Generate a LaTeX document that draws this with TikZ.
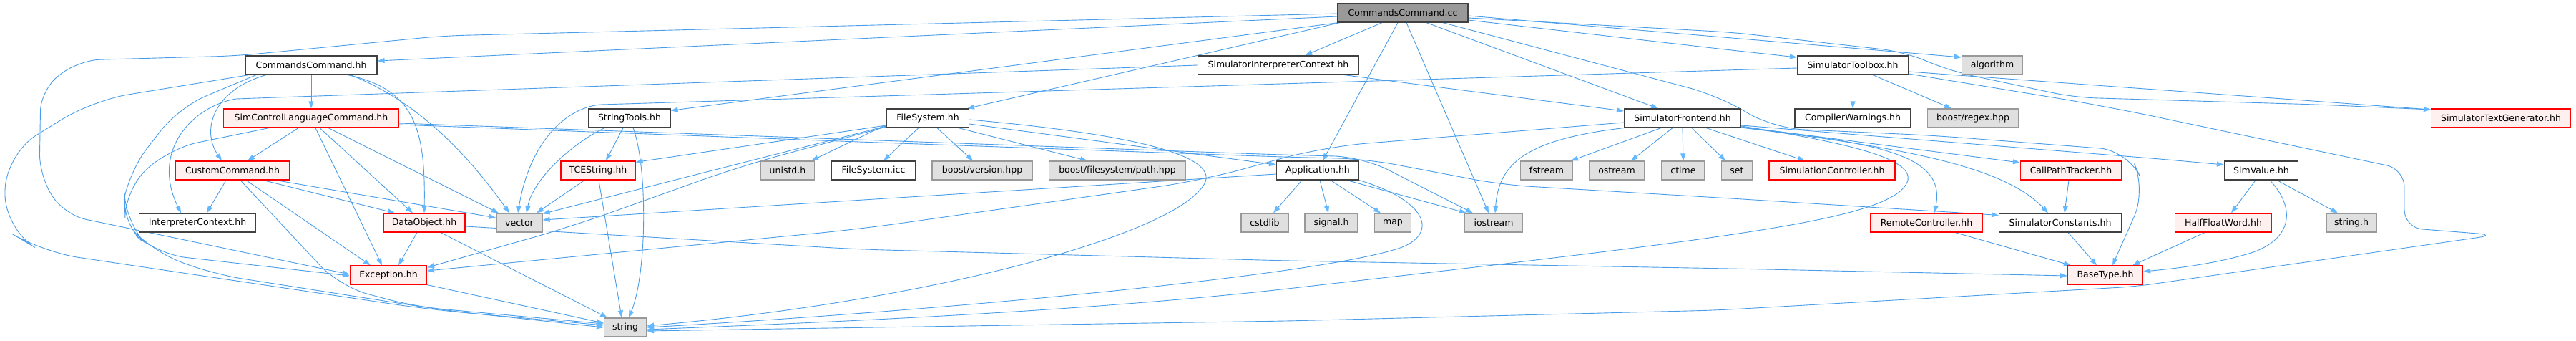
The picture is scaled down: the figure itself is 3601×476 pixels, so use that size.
\documentclass[tikz,border=0pt]{standalone}
\usepackage{fontspec}
\setmainfont{DejaVu Sans}
\usetikzlibrary{arrows.meta}
\definecolor{edgeblue}{HTML}{4A9DE8}
\definecolor{arrowblue}{HTML}{63B8FF}
\definecolor{redfill}{HTML}{FFF0F0}
\definecolor{extfill}{HTML}{E0E0E0}
\definecolor{extdraw}{HTML}{999999}
\definecolor{normdraw}{HTML}{404040}
\definecolor{rootfill}{HTML}{999999}
\definecolor{truncdraw}{HTML}{FF0000}
\pgfdeclarelayer{bg}
\pgfsetlayers{bg,main}
\begin{document}
\begin{tikzpicture}[x=1pt,y=-1pt,
  nbox/.style={rectangle, line width=1.2pt, minimum height=26pt, inner sep=0pt, font=\fontsize{12.5}{15}\selectfont},
  norm/.style={nbox, draw=normdraw, fill=white},
  trunc/.style={nbox, draw=truncdraw, fill=redfill},
  ext/.style={nbox, draw=extdraw, fill=extfill},
  rootn/.style={nbox, draw=normdraw, fill=rootfill},
  dep/.style={draw=edgeblue, line width=0.9pt, -{Triangle[length=10pt,width=7pt,color=arrowblue]}},
]
\useasboundingbox (0,0) rectangle (3601,476);
% nodes
\node[rootn, minimum width=182pt] (cc) at (1961,18) {CommandsCommand.cc};
\node[norm, minimum width=184pt] (cch) at (435,91) {CommandsCommand.hh};
\node[norm, minimum width=225pt] (sic) at (1787,91) {SimulatorInterpreterContext.hh};
\node[norm, minimum width=155pt] (stb) at (2590,91) {SimulatorToolbox.hh};
\node[ext, minimum width=85pt] (alg) at (2785,91) {algorithm};
\node[trunc, minimum width=245pt] (sclc) at (435,165) {SimControlLanguageCommand.hh};
\node[norm, minimum width=114pt] (st) at (880,165) {StringTools.hh};
\node[norm, minimum width=115pt] (fs) at (1297,165) {FileSystem.hh};
\node[norm, minimum width=163pt] (sf) at (2352,165) {SimulatorFrontend.hh};
\node[norm, minimum width=162pt] (cw) at (2590,165) {CompilerWarnings.hh};
\node[ext, minimum width=127pt] (regex) at (2758,165) {boost/regex.hpp};
\node[trunc, minimum width=195pt] (stg) at (3496,165) {SimulatorTextGenerator.hh};
\node[trunc, minimum width=160pt] (cust) at (325,238) {CustomCommand.hh};
\node[trunc, minimum width=104pt] (tce) at (836,238) {TCEString.hh};
\node[ext, minimum width=75pt] (unistd) at (1101,238) {unistd.h};
\node[norm, minimum width=118pt] (fsicc) at (1221,238) {FileSystem.icc};
\node[ext, minimum width=140pt] (bver) at (1373,238) {boost/version.hpp};
\node[ext, minimum width=191pt] (bpath) at (1562,238) {boost/filesystem/path.hpp};
\node[norm, minimum width=115pt] (app) at (1842,238) {Application.hh};
\node[ext, minimum width=73pt] (fstream) at (2162,238) {fstream};
\node[ext, minimum width=77pt] (ostream) at (2260,238) {ostream};
\node[ext, minimum width=60pt] (ctime) at (2353,238) {ctime};
\node[ext, minimum width=43pt] (setn) at (2428,238) {set};
\node[trunc, minimum width=176pt] (simctrl) at (2561,238) {SimulationController.hh};
\node[trunc, minimum width=141pt] (cpt) at (2895,238) {CallPathTracker.hh};
\node[norm, minimum width=103pt] (simval) at (3161,238) {SimValue.hh};
\node[norm, minimum width=163pt] (ic) at (276,311) {InterpreterContext.hh};
\node[trunc, minimum width=114pt] (dobj) at (593,311) {DataObject.hh};
\node[ext, minimum width=64pt] (vec) at (726,311) {vector};
\node[ext, minimum width=66pt] (cstdlib) at (1768,311) {cstdlib};
\node[ext, minimum width=74pt] (signal) at (1861,311) {signal.h};
\node[ext, minimum width=51pt] (mapn) at (1947,311) {map};
\node[ext, minimum width=81pt] (iostream) at (2088,311) {iostream};
\node[trunc, minimum width=156pt] (rc) at (2693,311) {RemoteController.hh};
\node[norm, minimum width=171pt] (sconst) at (2880,311) {SimulatorConstants.hh};
\node[trunc, minimum width=135pt] (hfw) at (3108,311) {HalfFloatWord.hh};
\node[ext, minimum width=70pt] (stringh) at (3287,311) {string.h};
\node[trunc, minimum width=107pt] (exc) at (543,384) {Exception.hh};
\node[trunc, minimum width=105pt] (bt) at (2943,384) {BaseType.hh};
\node[ext, minimum width=59pt] (strn) at (874,457) {string};
\begin{pgfonlayer}{bg}
% from CommandsCommand.cc
\draw[dep] ([yshift=-5pt]cc.west) -- ([yshift=6pt]cch.east);
\draw[dep, rounded corners=30pt] ([yshift=-1pt]cc.west) -- (620,50) -- (330,78) -- (110,84) -- (57,125) -- (55,245) -- (90,300) -- ([yshift=1pt]exc.west);
\draw[dep] ([xshift=-90pt]cc.south) -- ([yshift=-3pt]st.north east);
\draw[dep] ([xshift=-88pt]cc.south) -- ([xshift=-3pt]fs.north east);
\draw[dep] ([xshift=-29pt]cc.south) -- ([xshift=37pt]sic.north);
\draw[dep] ([xshift=-7pt]cc.south) -- ([xshift=7pt]app.north);
\draw[dep] ([xshift=5pt]cc.south) -- ([xshift=-7pt]iostream.north);
\draw[dep] ([xshift=33pt]cc.south) -- ([xshift=-34pt]sf.north);
\draw[dep, rounded corners=40pt] ([xshift=56pt]cc.south) -- (2400,133) -- (2480,179) -- (2700,189) -- (2975,210) -- (3000,265) -- ([xshift=10pt]bt.north);
\draw[dep, rounded corners=30pt] ([yshift=-10pt]cc.east) -- (2420,70) -- ([yshift=11pt]stb.west);
\draw[dep] ([yshift=-4pt]cc.east) -- ([yshift=11pt]alg.west);
\draw[dep, rounded corners=30pt] ([yshift=-7pt]cc.east) -- (2420,45) -- (2660,72) -- (2730,100) -- (2900,136) -- (3240,146) -- ([yshift=12pt]stg.west);
% from CommandsCommand.hh
\draw[dep] (cch.south) -- (sclc.north);
\draw[dep] ([xshift=-63pt]cch.south) .. controls (300,125) and (280,180) .. ([xshift=-15pt]cust.north);
\draw[dep, rounded corners=40pt] ([xshift=-77pt]cch.south) -- (250,150) -- (180,240) -- (168,310) -- (220,355) -- ([yshift=-1pt]exc.west);
\draw[dep, rounded corners=50pt] ([xshift=-87pt]cch.south) -- (130,140) -- (8,215) -- (6,320) -- (60,352) -- (600,432) -- ([yshift=3pt]strn.west);
\draw[dep] ([xshift=51pt]cch.south) .. controls (580,125) and (595,180) .. (dobj.north);
\draw[dep] ([xshift=55pt]cch.south) .. controls (580,140) and (650,210) .. ([xshift=-14pt]vec.north);
% from SimControlLanguageCommand.hh
\draw[dep] ([xshift=-18pt]sclc.south) -- ([xshift=21pt]cust.north);
\draw[dep, rounded corners=40pt] ([xshift=-59pt]sclc.south) -- (237,207) -- (174,265) -- (175,310) -- (215,352) -- (300,383) -- (620,433) -- (strn.west);
\draw[dep] ([xshift=6pt]sclc.south) -- ([xshift=-9pt]exc.north);
\draw[dep] ([xshift=12pt]sclc.south) -- ([xshift=-16pt]dobj.north);
\draw[dep] ([xshift=24pt]sclc.south) -- ([xshift=-29pt]vec.north);
\draw[dep, rounded corners=40pt] ([yshift=-7pt]sclc.east) -- (1200,195) -- (1790,216) -- (1905,219) -- ([xshift=12pt]iostream.north west);
\draw[dep, rounded corners=40pt] ([yshift=-9pt]sclc.east) -- (1200,198) -- (1790,219) -- (1910,222) -- (2100,258) -- (2420,277) -- ([yshift=-3pt]sconst.north west);
% from CustomCommand.hh
\draw[dep] ([xshift=-9pt]cust.south) -- ([xshift=13pt]ic.north);
\draw[dep] ([xshift=19pt]cust.south) -- ([xshift=-25pt]exc.north);
\draw[dep, rounded corners=40pt] ([xshift=11pt]cust.south) -- (475,400) -- (580,428) -- ([yshift=5pt]strn.west);
\draw[dep] ([xshift=43pt]cust.south) -- ([xshift=-41pt]dobj.north);
\draw[dep] ([xshift=-20pt]cust.south east) -- ([yshift=7pt]vec.west);
% from DataObject.hh
\draw[dep] ([xshift=-10pt]dobj.south) -- ([xshift=14pt]exc.north);
\draw[dep] ([xshift=23pt]dobj.south) -- ([xshift=-25pt]strn.north);
\draw[dep, rounded corners=40pt] ([yshift=-5pt]dobj.east) -- (1200,348) -- (1800,364) -- (2420,375) -- ([yshift=-1pt]bt.west);
% from Exception.hh
\draw[dep] (exc.south east) -- ([yshift=6pt]strn.west);
% from TCEString.hh and StringTools.hh
\draw[dep] ([xshift=-19pt]tce.south) -- ([xshift=24pt]vec.north);
\draw[dep] ([xshift=1pt]tce.south) -- ([xshift=-5pt]strn.north);
\draw[dep] ([xshift=-9pt]st.south) -- ([xshift=11pt]tce.north);
\draw[dep] ([xshift=-35pt]st.south) .. controls (800,200) and (745,250) .. ([xshift=10pt]vec.north);
\draw[dep] ([xshift=5pt]st.south) .. controls (905,230) and (905,380) .. ([xshift=5pt]strn.north);
% from FileSystem.hh
\draw[dep] ([xshift=-13pt]fs.south) -- ([xshift=14pt]fsicc.north);
\draw[dep] ([xshift=13pt]fs.south) -- ([xshift=-13pt]bver.north);
\draw[dep] ([xshift=43pt]fs.south) -- ([xshift=-42pt]bpath.north);
\draw[dep] ([yshift=-2pt]fs.east) .. controls (1560,185) and (1720,215) .. (1680,262) .. controls (1630,330) and (1300,420) .. ([yshift=2pt]strn.east);
\draw[dep] ([yshift=-8pt]fs.east) -- ([yshift=8pt]app.west);
\draw[dep] ([yshift=-9pt]fs.west) -- ([xshift=-5pt]unistd.north east);
\draw[dep] ([yshift=-10pt]fs.west) -- ([yshift=-2pt]tce.north east);
\draw[dep] ([yshift=-11pt]fs.west) -- ([yshift=-1pt]vec.north east);
\draw[dep, rounded corners=60pt] ([yshift=-12pt]fs.west) -- (1035,232) -- (800,316) -- ([yshift=-3pt]exc.north east);
% from Application.hh
\draw[dep] ([xshift=-22pt]app.south) -- ([xshift=12pt]cstdlib.north);
\draw[dep] ([xshift=3pt]app.south) -- ([xshift=-4pt]signal.north);
\draw[dep] ([xshift=18pt]app.south) -- ([xshift=-17pt]mapn.north);
\draw[dep] ([xshift=41pt]app.south) -- ([xshift=3pt]iostream.north west);
\draw[dep] (app.south east) .. controls (1995,280) and (2010,325) .. (1960,345) .. controls (1850,385) and (1300,435) .. (strn.east);
\draw[dep] ([yshift=-5pt]app.west) -- ([yshift=4pt]vec.east);
% from SimulatorFrontend.hh
\draw[dep] ([xshift=-30pt]sf.south) -- ([xshift=-3pt]fstream.north east);
\draw[dep] ([xshift=-14pt]sf.south) -- ([xshift=20pt]ostream.north);
\draw[dep] (sf.south) -- (ctime.north);
\draw[dep] ([xshift=13pt]sf.south) -- ([xshift=-16pt]setn.north);
\draw[dep] ([xshift=33pt]sf.south) -- ([xshift=-38pt]simctrl.north);
\draw[dep] (sf.south west) .. controls (2130,195) and (2095,230) .. ([xshift=2pt]iostream.north);
\draw[dep, rounded corners=60pt] ([yshift=-6pt]sf.west) -- (1850,205) -- (1680,252) -- (1200,320) -- ([yshift=6pt]exc.east);
\draw[dep] ([yshift=-12pt]sf.east) -- ([yshift=11pt]cpt.west);
\draw[dep, rounded corners=40pt] ([yshift=-10pt]sf.east) -- (3020,222) -- ([yshift=8pt]simval.west);
\draw[dep] ([yshift=-13pt]sf.east) .. controls (2640,200) and (2720,220) .. ([xshift=11pt]rc.north);
\draw[dep] ([yshift=-13pt]sf.east) .. controls (2650,205) and (2800,230) .. ([xshift=-17pt]sconst.north);
\draw[dep] ([yshift=-11pt]sf.east) .. controls (2620,205) and (2700,230) .. (2655,268) .. controls (2600,310) and (2400,335) .. (1800,403) .. controls (1500,437) and (1100,452) .. ([yshift=-3pt]strn.east);
% from SimulatorToolbox.hh
\draw[dep] (stb.south) -- (cw.north);
\draw[dep] ([xshift=28pt]stb.south) -- ([xshift=-30pt]regex.north);
\draw[dep] ([yshift=-9pt]stb.east) -- ([yshift=12pt]stg.west);
\draw[dep, rounded corners=25pt] ([yshift=-12pt]stb.east) -- (2900,141) -- (2985,157) -- (3361,236) -- (3361,318) -- (3489,328) -- (2985,400) -- (2400,433) -- (1800,448) -- ([yshift=-5pt]strn.east);
\draw[dep] ([yshift=-4pt]stb.west) -- (840,146) .. controls (790,150) and (740,200) .. ([xshift=-2pt]vec.north);
% from SimulatorInterpreterContext.hh
\draw[dep] (sic.west) -- (330,138) .. controls (270,148) and (210,210) .. ([xshift=-23pt]ic.north);
\draw[dep] ([xshift=92pt]sic.south) -- ([yshift=10pt]sf.west);
% lower right
\draw[dep] ([xshift=-3pt]cpt.south) -- ([xshift=6pt]sconst.north);
\draw[dep] ([xshift=-8pt]simval.south) -- ([xshift=11pt]hfw.north);
\draw[dep] ([xshift=12pt]simval.south) .. controls (3205,285) and (3210,330) .. (3150,352) .. controls (3100,368) and (3040,375) .. ([yshift=5pt]bt.east);
\draw[dep] ([xshift=22pt]simval.south) -- ([xshift=-19pt]stringh.north);
\draw[dep] ([xshift=-26pt]hfw.south) -- ([xshift=-15pt]bt.north east);
\draw[dep] ([xshift=40pt]rc.south) -- ([xshift=5pt]bt.north west);
\draw[dep] ([xshift=11pt]sconst.south) -- ([xshift=-12pt]bt.north);
\end{pgfonlayer}
\end{tikzpicture}
\end{document}
